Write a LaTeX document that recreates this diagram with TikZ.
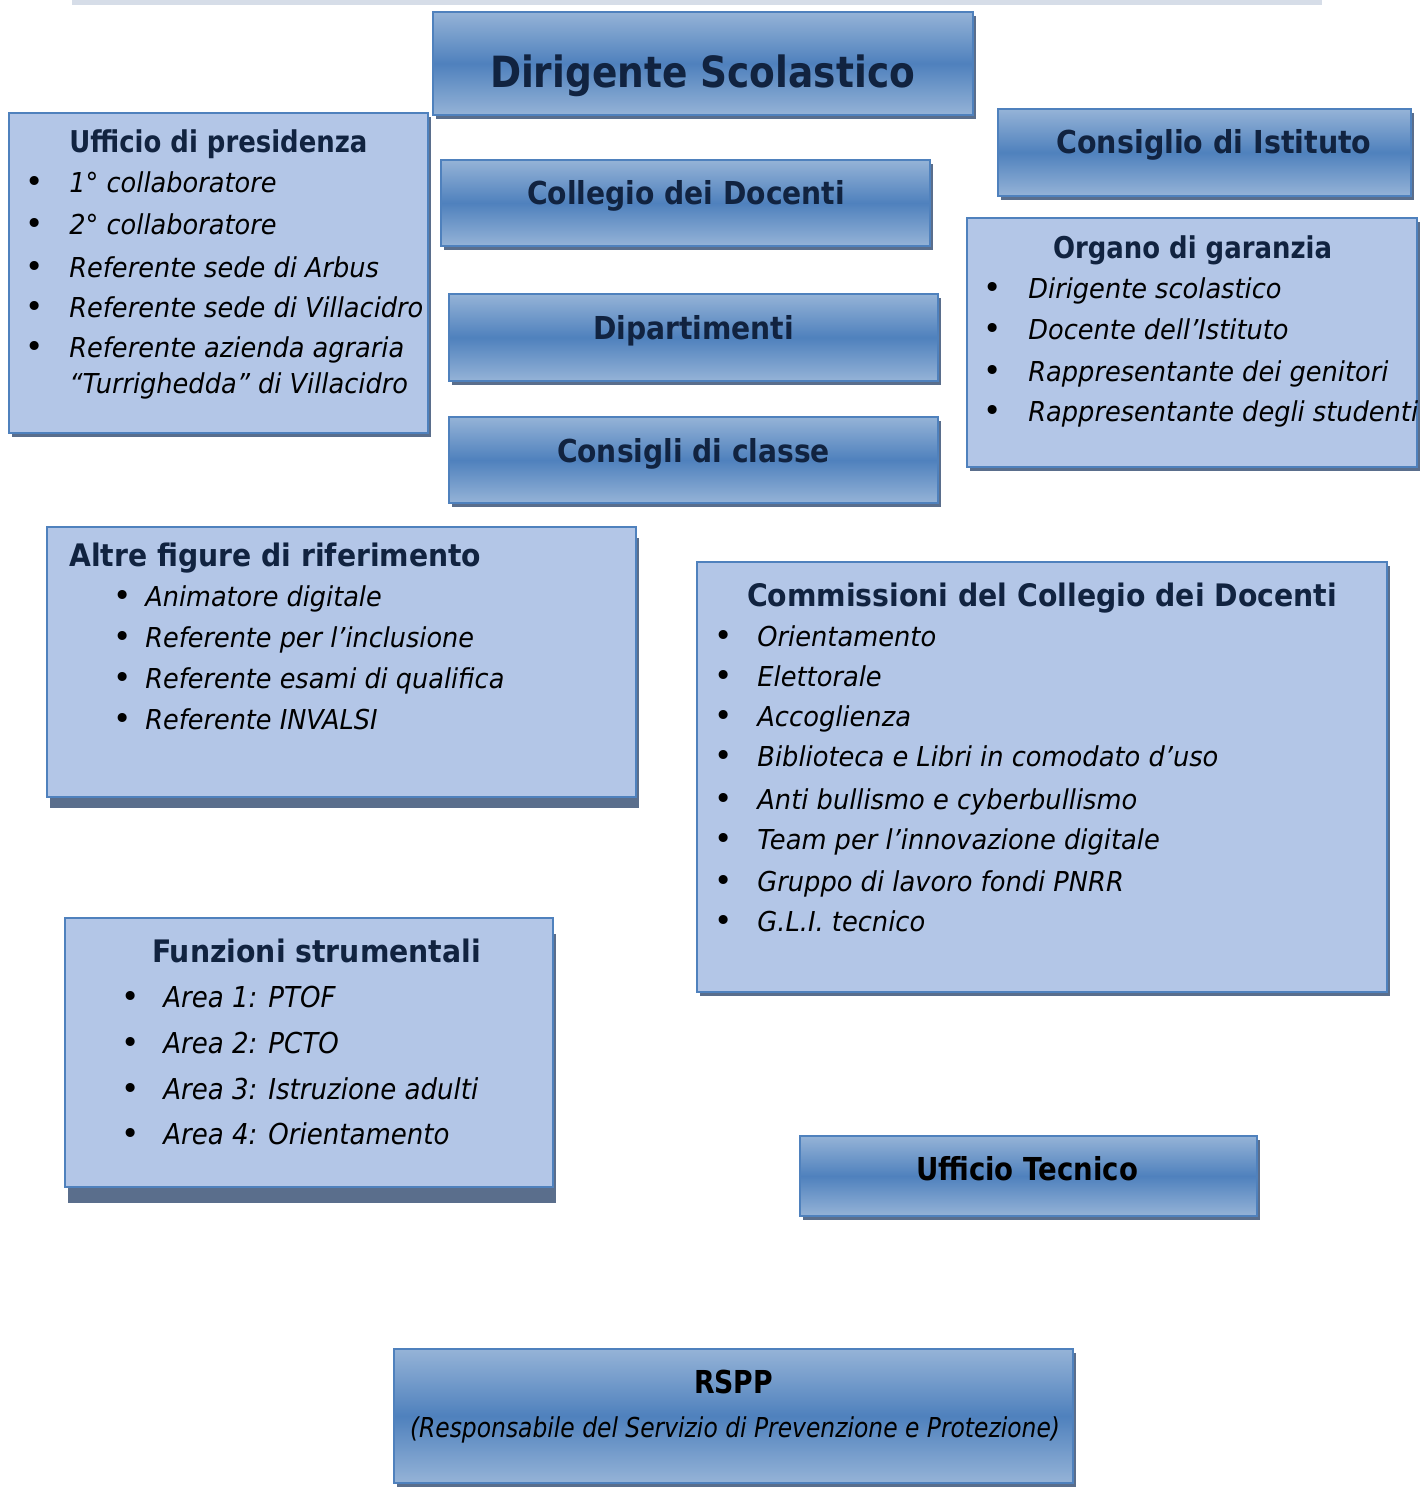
\documentclass[tikz,border=0pt]{standalone}
\usepackage{fontspec}
\setmainfont{DejaVu Sans}
\usepackage{graphicx}
\usetikzlibrary{fit,shadows}
\definecolor{bordc}{HTML}{4F81BD}
\definecolor{lightc}{HTML}{B3C6E7}
\definecolor{gradl}{HTML}{95B3D7}
\definecolor{gradd}{HTML}{4F81BD}
\definecolor{shadc}{HTML}{5A6E8C}
\definecolor{navy}{HTML}{112340}
\definecolor{barc}{HTML}{D6DDE8}
\newlength\fitL
\newcommand\fitw[2]{\settowidth\fitL{#2}\pgfmathsetmacro\fitr{#1/\fitL}\scalebox{\fitr}[1]{#2}}
\newcommand\calib[4]{\begingroup#2\settowidth\fitL{#4}\pgfmathsetmacro\tmpr{#3/\fitL}\global\expandafter\let\csname #1\endcsname\tmpr\endgroup}
\newcommand\boxr{1}
\newcommand\SX[1]{\scalebox{\boxr}[1]{#1}}
\newcommand\itmfont{\fontsize{13.7}{16}\selectfont\itshape}
\newcommand\itmfontb{\fontsize{14.4}{17}\selectfont\itshape}
% name, bullet x, text x, baseline, text
\newcommand\bitem[5]{%
  \node[bul] (#1b) at (#2,#4) {\textbullet};
  \node[itm] (#1) at (#3,#4) {\SX{#5}};}
\tikzset{
  sh/.style={general shadow={fill=shadc, shadow xshift=1.5pt, shadow yshift=-#1}},
  gbox/.style={draw=bordc, line width=1.2pt, inner sep=0pt, top color=gradl, bottom color=gradl, middle color=gradd},
  lbox/.style={draw=bordc, line width=1.2pt, inner sep=0pt, fill=lightc},
  ttl/.style={anchor=base, inner sep=0pt, text=navy, font=\fontsize{15.8}{18}\selectfont\bfseries},
  hd/.style={anchor=base west, inner sep=0pt, text=navy, font=\fontsize{15}{18}\selectfont\bfseries},
  itm/.style={anchor=base west, inner sep=0pt, font=\itmfont},
  bul/.style={anchor=base, inner sep=0pt, font=\fontsize{15.5}{16}\selectfont},
}
\begin{document}
\calib{rpres}{\itmfont}{177}{Referente sede di Villacidro}%
\calib{rorg}{\itmfont}{180}{Rappresentante dei genitori}%
\calib{ralt}{\itmfont}{179.5}{Referente esami di qualifica}%
\calib{rcom}{\itmfont}{230.5}{Biblioteca e Libri in comodato d’uso}%
\calib{rfun}{\itmfontb}{157.5}{Area 3: Istruzione adulti}%
\begin{tikzpicture}[x=0.5pt, y=-0.5pt]
\useasboundingbox (0,0) rectangle (1419,1488);
\fill[barc] (72,0) rectangle (1322,5);

% boxes
\node[gbox, sh=2pt, fit={(433,12)(973,115)}] (dir) {};
\node[lbox, sh=2pt, fit={(9,113)(428,433)}] (pres) {};
\node[gbox, sh=2pt, fit={(441,160)(930,246)}] (coll) {};
\node[gbox, sh=2pt, fit={(449,294)(938,381)}] (dip) {};
\node[gbox, sh=2pt, fit={(449,417)(938,503)}] (ccl) {};
\node[gbox, sh=2pt, fit={(998,109)(1411,196)}] (cist) {};
\node[lbox, sh=2pt, fit={(967,218)(1417,467)}] (org) {};
\node[lbox, sh=5.5pt, fit={(47,527)(636,797)}] (alt) {};
\node[lbox, sh=2pt, fit={(697,562)(1387,992)}] (com) {};
\node[lbox, sh=8pt, fit={(65,918)(553,1187)}] (fun) {};
\node[gbox, sh=2pt, fit={(800,1136)(1257,1216)}] (utec) {};
\node[gbox, sh=2pt, fit={(394,1349)(1073,1483)}] (rspp) {};

% titles
\node[ttl, font=\fontsize{21.5}{26}\selectfont\bfseries] (dirt) at (702.5,87) {\fitw{212.5}{Dirigente Scolastico}};
\node[ttl] (collt) at (686,204) {\fitw{159}{Collegio dei Docenti}};
\node[ttl] (dipt) at (693.5,339) {\fitw{100.5}{Dipartimenti}};
\node[ttl] (cclt) at (693.5,462) {\fitw{136.5}{Consigli di classe}};
\node[ttl] (cistt) at (1214,153) {\fitw{157.5}{Consiglio di Istituto}};
\node[ttl, text=black] (utect) at (1027,1180) {\fitw{111}{Ufficio Tecnico}};
\node[ttl, text=black] (rsppt) at (733.5,1393) {\fitw{39.5}{RSPP}};
\node[itm, anchor=base] (rsppd) at (735,1437) {\fitw{325}{(Responsabile del Servizio di Prevenzione e Protezione)}};

% Ufficio di presidenza
\node[hd] (presh) at (69,152) {\fitw{149}{Ufficio di presidenza}};
\let\boxr\rpres
\bitem{p1}{35}{69}{192}{1° collaboratore}
\bitem{p2}{35}{69}{234}{2° collaboratore}
\bitem{p3}{35}{69}{277}{Referente sede di Arbus}
\bitem{p4}{35}{69}{317}{Referente sede di Villacidro}
\bitem{p5}{35}{69}{357}{Referente azienda agraria}
\node[itm] (p6) at (69,393) {\SX{“Turrighedda” di Villacidro}};

% Organo di garanzia
\node[hd, anchor=base] (orgh) at (1192.5,258) {\fitw{139.5}{Organo di garanzia}};
\let\boxr\rorg
\bitem{o1}{993}{1028}{298}{Dirigente scolastico}
\bitem{o2}{993}{1028}{339}{Docente dell’Istituto}
\bitem{o3}{993}{1028}{381}{Rappresentante dei genitori}
\bitem{o4}{993}{1028}{421}{Rappresentante degli studenti}

% Altre figure
\node[hd, font=\fontsize{15.5}{18}\selectfont\bfseries] (alth) at (69,566) {\fitw{206}{Altre figure di riferimento}};
\let\boxr\ralt
\bitem{a1}{123}{145}{606}{Animatore digitale}
\bitem{a2}{123}{145}{647}{Referente per l’inclusione}
\bitem{a3}{123}{145}{688}{Referente esami di qualifica}
\bitem{a4}{123}{145}{729}{Referente INVALSI}

% Commissioni
\node[hd, anchor=base, font=\fontsize{15.5}{18}\selectfont\bfseries] (comh) at (1042,606) {\fitw{295}{Commissioni del Collegio dei Docenti}};
\let\boxr\rcom
\bitem{c1}{724}{757}{646}{Orientamento}
\bitem{c2}{724}{757}{686}{Elettorale}
\bitem{c3}{724}{757}{726}{Accoglienza}
\bitem{c4}{724}{757}{766}{Biblioteca e Libri in comodato d’uso}
\bitem{c5}{724}{757}{809}{Anti bullismo e cyberbullismo}
\bitem{c6}{724}{757}{849}{Team per l’innovazione digitale}
\bitem{c7}{724}{757}{891}{Gruppo di lavoro fondi PNRR}
\bitem{c8}{724}{757}{931}{G.L.I. tecnico}

% Funzioni strumentali
\node[hd, anchor=base, font=\fontsize{15.5}{18}\selectfont\bfseries] (funh) at (316.5,962) {\fitw{164.5}{Funzioni strumentali}};
\let\boxr\rfun
\renewcommand\itmfont{\fontsize{14.4}{17}\selectfont\itshape}
\bitem{f1}{131}{163}{1007}{Area 1: PTOF}
\bitem{f2}{131}{163}{1053}{Area 2: PCTO}
\bitem{f3}{131}{163}{1099}{Area 3: Istruzione adulti}
\bitem{f4}{131}{163}{1144}{Area 4: Orientamento}
\end{tikzpicture}
\end{document}
